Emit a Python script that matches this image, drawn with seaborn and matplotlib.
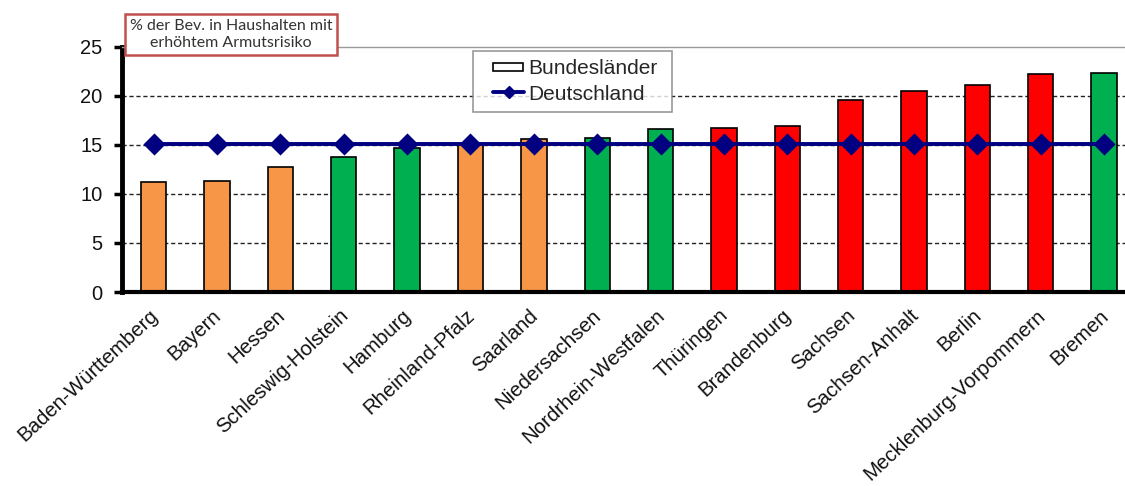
import matplotlib
matplotlib.use("Agg")
import matplotlib.pyplot as plt
import matplotlib.transforms as mtransforms
import seaborn as sns
import pandas as pd
from matplotlib.patches import Patch, Rectangle
from matplotlib.lines import Line2D
from matplotlib.legend_handler import HandlerBase, HandlerPatch

# Anteil der Bevölkerung mit erhöhtem Armutsrisiko nach Bundesland (%)
laender = ["Baden-Württemberg", "Bayern", "Hessen", "Schleswig-Holstein", "Hamburg",
           "Rheinland-Pfalz", "Saarland", "Niedersachsen", "Nordrhein-Westfalen",
           "Thüringen", "Brandenburg", "Sachsen", "Sachsen-Anhalt", "Berlin",
           "Mecklenburg-Vorpommern", "Bremen"]
quote = [11.2, 11.3, 12.7, 13.8, 14.7, 15.1, 15.6, 15.7, 16.6,
         16.7, 16.9, 19.6, 20.5, 21.1, 22.2, 22.3]
gruppe = ["sued", "sued", "sued", "nord", "nord", "sued", "sued", "nord", "nord",
          "ost", "ost", "ost", "ost", "ost", "ost", "nord"]
deutschland = 15.1

farben = {"sued": "#F79646", "nord": "#00B050", "ost": "#FF0000"}
DE_FARBE = "#000080"

df = pd.DataFrame({"Land": laender, "Quote": quote, "Gruppe": gruppe})
df["DE"] = deutschland

sns.set_theme(style="white")
plt.rcParams["font.family"] = ["Liberation Sans", "DejaVu Sans"]

fig = plt.figure(figsize=(11.25, 4.86), dpi=100)
ax = fig.add_axes([122 / 1125, 1 - 292 / 486, 1 - 122 / 1125, (292 - 46.7) / 486])

sns.barplot(data=df, x="Land", y="Quote", hue="Land",
            palette=[farben[g] for g in gruppe], legend=False, saturation=1,
            width=0.4, edgecolor="black", linewidth=1.2, ax=ax, zorder=2)

sns.pointplot(data=df, x="Land", y="DE", color=DE_FARBE, markers="D",
              linestyles="-", markersize=9.5, linewidth=2.8, ax=ax, zorder=4)

ax.set_xlim(-0.5, 15.33)
ax.set_ylim(0, 25)
ax.set_yticks([0, 5, 10, 15, 20, 25])
ax.set_xlabel("")
ax.set_ylabel("")

for y in [5, 10, 15, 20]:
    ax.axhline(y, color="#222222", lw=1.0, ls=(0, (3, 2)), zorder=1)

ax.spines["left"].set_linewidth(3.5)
ax.spines["left"].set_color("black")
ax.spines["bottom"].set_linewidth(3)
ax.spines["bottom"].set_color("black")
ax.spines["top"].set_color("#9a9a9a")
ax.spines["top"].set_linewidth(1)
ax.spines["right"].set_visible(False)

ax.tick_params(axis="y", which="major", direction="out", length=6, width=2.5,
               color="black", labelsize=14.5, pad=8, left=True)
ax.tick_params(axis="x", length=0, labelsize=14.7, pad=2)
shift = mtransforms.ScaledTranslation(-5 / 100, -11 / 100, fig.dpi_scale_trans)
for lbl in ax.get_xticklabels():
    lbl.set_rotation(43)
    lbl.set_ha("right")
    lbl.set_rotation_mode("anchor")
    lbl.set_transform(lbl.get_transform() + shift)
for lbl in ax.get_xticklabels() + ax.get_yticklabels():
    lbl.set_color("#111111")


# Legend keys drawn in the right part of the handle box, leaving a left margin
class ReihenHandler(HandlerBase):
    def create_artists(self, legend, orig_handle, xdescent, ydescent,
                       width, height, fontsize, trans):
        x0 = -xdescent + width * 0.27
        x1 = -xdescent + width * 0.95
        yc = -ydescent + height / 2
        linie = Line2D([x0, x1], [yc, yc], color=DE_FARBE, lw=2.8, transform=trans)
        punkt = Line2D([(x0 + x1) / 2], [yc], marker="D", markersize=6.5,
                       color=DE_FARBE, transform=trans)
        return [linie, punkt]


def kasten(legend, orig_handle, xdescent, ydescent, width, height, fontsize):
    return Rectangle((-xdescent + width * 0.27, -ydescent + height * 0.2),
                     width * 0.66, height * 0.55)


handles = [Patch(facecolor="white", edgecolor="black", linewidth=1.2),
           Line2D([0], [0], color=DE_FARBE)]
leg = fig.legend(handles, ["Bundesländer", "Deutschland"],
                 loc="upper left", mode="expand",
                 bbox_to_anchor=(473 / 1125, 1 - 112 / 486, 199 / 1125, 61 / 486),
                 fontsize=15, frameon=True, fancybox=False, borderpad=0.4,
                 handlelength=2.16, handletextpad=0.1, labelspacing=0.3,
                 borderaxespad=0,
                 handler_map={Patch: HandlerPatch(patch_func=kasten),
                              Line2D: ReihenHandler()})
leg.get_frame().set_edgecolor("#808080")
leg.get_frame().set_linewidth(1.2)

fig.text(231 / 1125, 1 - 34.5 / 486, "% der Bev. in Haushalten mit\nerhöhtem Armutsrisiko",
         ha="center", va="center", fontsize=11.5, color="#333333",
         family=["Lato", "DejaVu Sans"], linespacing=1.25,
         bbox=dict(boxstyle="square,pad=0.32", facecolor="white",
                   edgecolor="#C0504D", linewidth=1.8))

fig.savefig("out.png", dpi=100)
